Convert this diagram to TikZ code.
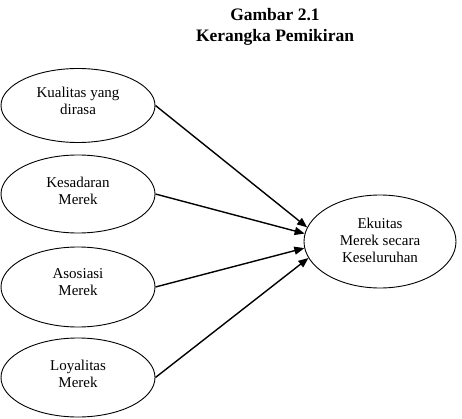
\documentclass[tikz,border=0pt]{standalone}
\usepackage{fontspec}
\setmainfont{Liberation Serif}
\usetikzlibrary{shapes.geometric,arrows.meta}
\begin{document}
\begin{tikzpicture}[x=1pt,y=1pt,
  oval/.style={draw=black,line width=0.9pt,ellipse,inner sep=0pt,minimum width=154pt},
  txt/.style={align=center,font=\fontsize{15}{17}\selectfont,inner sep=0pt},
  ttl/.style={font=\fontsize{17.5}{21}\selectfont\bfseries,anchor=base,inner sep=0pt},
  link/.style={line width=1.4pt,-{Triangle[length=10pt,width=8pt]}}]
\useasboundingbox (0,0) rectangle (462,418);
\node[ttl] (title1) at (275,397) {Gambar 2.1};
\node[ttl] (title2) at (275,376) {Kerangka Pemikiran};
\node[oval,minimum height=74pt] (k1) at (78,312.5) {};
\node[oval,minimum height=78pt] (k2) at (78,224) {};
\node[oval,minimum height=80pt] (k3) at (78,131) {};
\node[oval,minimum height=79pt] (k4) at (78,40.5) {};
\node[oval,minimum width=152pt,minimum height=93pt] (e) at (380,176.5) {};
\node[txt] (t1) at ([yshift=5pt]k1.center) {Kualitas yang\\dirasa};
\node[txt] (t2) at ([yshift=3.5pt]k2.center) {Kesadaran\\Merek};
\node[txt] (t3) at ([yshift=4.5pt]k3.center) {Asosiasi\\Merek};
\node[txt] (t4) at ([yshift=4pt]k4.center) {Loyalitas\\Merek};
\node[txt] (te) at ([yshift=1pt]e.center) {Ekuitas\\Merek secara\\Keseluruhan};
\draw[link] (k1.east) -- (e.169);
\draw[link] (k2.east) -- (e.174.5);
\draw[link] (k3.east) -- (e.185);
\draw[link] (k4.east) -- (e.193);
\end{tikzpicture}
\end{document}
